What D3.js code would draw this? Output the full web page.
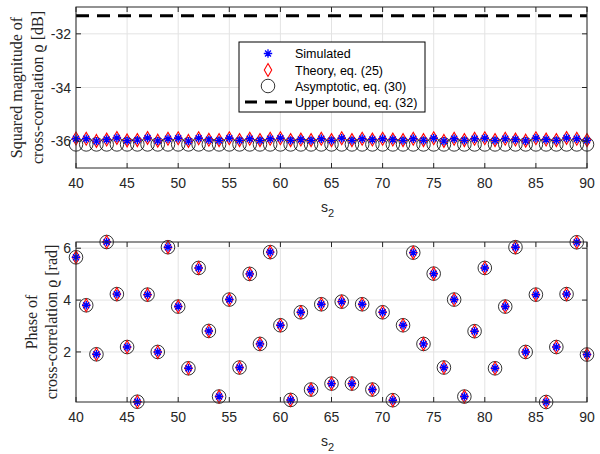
<!DOCTYPE html>
<meta charset="utf-8">
<style>
  body { margin: 0; background: #fff; }
  .tick-label { font: 14px "Liberation Sans", Arial, sans-serif; fill: #262626; }
  .ylab { font: 16px "Liberation Serif", serif; fill: #262626; }
  .legend text { font: 12.5px "Liberation Sans", Arial, sans-serif; fill: #000; }
</style>
<body>
<script src="https://d3js.org/d3.v7.min.js"></script>
<script>
// x values (s_2)
var s2 = [40,41,42,43,44,45,46,47,48,49,50,51,52,53,54,55,56,57,58,59,60,61,62,63,64,65,
          66,67,68,69,70,71,72,73,74,75,76,77,78,79,80,81,82,83,84,85,86,87,88,89,90];

// squared magnitude [dB]
var magSim = [-35.91,-35.91,-36.00,-35.94,-35.88,-35.98,-35.96,-35.88,-35.99,-35.91,-35.89,-36.00,-35.89,
              -35.95,-35.97,-35.89,-35.97,-35.91,-35.97,-35.91,-35.89,-35.97,-35.94,-35.97,-35.91,-35.97,
              -35.89,-35.97,-35.91,-35.94,-35.91,-35.94,-35.97,-35.91,-35.97,-35.89,-36.00,-35.91,-35.97,
              -35.91,-35.89,-35.97,-35.91,-35.94,-35.99,-35.89,-35.94,-35.97,-35.88,-35.91,-35.97];
var magTheory = [-35.90,-35.91,-35.99,-35.94,-35.88,-35.97,-35.96,-35.88,-35.98,-35.91,-35.89,-35.99,-35.89,
              -35.95,-35.96,-35.89,-35.96,-35.91,-35.96,-35.91,-35.89,-35.96,-35.94,-35.96,-35.91,-35.96,
              -35.89,-35.96,-35.91,-35.94,-35.91,-35.94,-35.96,-35.91,-35.96,-35.89,-35.99,-35.91,-35.96,
              -35.91,-35.89,-35.96,-35.91,-35.94,-35.98,-35.89,-35.94,-35.96,-35.88,-35.91,-35.96];
var magAsym = -36.12;
var magUpper = -31.33;

// phase [rad]
var phaseSim = [5.65,3.80,1.91,6.24,4.23,2.19,0.08,4.21,2.00,6.04,3.75,1.37,5.24,2.81,0.28,4.02,1.40,
                5.01,2.31,5.85,3.03,0.15,3.53,0.55,3.84,0.78,3.94,0.78,3.84,0.55,3.53,0.14,3.03,5.83,
                2.31,5.02,1.40,4.02,0.28,2.80,5.24,1.37,3.75,6.04,2.00,4.21,0.07,2.19,4.23,6.23,1.90];
var phaseTheory = phaseSim.slice();
var phaseAsym = phaseSim.slice();

var xTicks = [40,45,50,55,60,65,70,75,80,85,90];
var magTicks = [-36,-34,-32];
var phaseTicks = [2,4,6];

var legendLabels = ["Simulated", "Theory, eq. (25)", "Asymptotic, eq. (30)", "Upper bound, eq. (32)"];

var W = 600, H = 454;
var svg = d3.select("body").append("svg").attr("width", W).attr("height", H);

var left = 76, right = 587;
var x = d3.scaleLinear().domain([40, 90]).range([left, right]);

var axisColor = "#262626", gridColor = "#e3e3e3";

function starPath(r) {
  var d = r * Math.SQRT1_2;
  return "M" + (-r) + ",0L" + r + ",0M0," + (-r) + "L0," + r +
         "M" + (-d) + "," + (-d) + "L" + d + "," + d + "M" + (-d) + "," + d + "L" + d + "," + (-d);
}
var diamond = d3.symbol().type(d3.symbolDiamond).size(48)();
var circle = d3.symbol().type(d3.symbolCircle).size(145)();
var star = starPath(4.2);

function panel(top, bottom, yDomain, yTicks, labLines, series) {
  var y = d3.scaleLinear().domain(yDomain).range([bottom, top]);
  var g = svg.append("g");

  // grid
  g.selectAll(".gx").data(xTicks).enter().append("line")
    .attr("x1", x).attr("x2", x).attr("y1", top).attr("y2", bottom)
    .attr("stroke", gridColor);
  g.selectAll(".gy").data(yTicks).enter().append("line")
    .attr("x1", left).attr("x2", right).attr("y1", y).attr("y2", y)
    .attr("stroke", gridColor);

  series(g, y);

  // box
  g.append("rect").attr("x", left).attr("y", top)
    .attr("width", right - left).attr("height", bottom - top)
    .attr("fill", "none").attr("stroke", axisColor).attr("stroke-width", 1);

  // ticks (all four sides, inward)
  var tl = 5;
  xTicks.forEach(function(t) {
    g.append("line").attr("x1", x(t)).attr("x2", x(t)).attr("y1", bottom).attr("y2", bottom - tl).attr("stroke", axisColor);
    g.append("line").attr("x1", x(t)).attr("x2", x(t)).attr("y1", top).attr("y2", top + tl).attr("stroke", axisColor);
    g.append("text").attr("class", "tick-label").attr("x", x(t)).attr("y", bottom + 20)
      .attr("text-anchor", "middle").text(t);
  });
  yTicks.forEach(function(t) {
    g.append("line").attr("x1", left).attr("x2", left + tl).attr("y1", y(t)).attr("y2", y(t)).attr("stroke", axisColor);
    g.append("line").attr("x1", right).attr("x2", right - tl).attr("y1", y(t)).attr("y2", y(t)).attr("stroke", axisColor);
    g.append("text").attr("class", "tick-label").attr("x", left - 5).attr("y", y(t) + 5)
      .attr("text-anchor", "end").text(t);
  });

  // x label s_2
  var xl = g.append("text").attr("class", "tick-label").attr("x", (left + right) / 2 - 4).attr("y", bottom + 44)
    .attr("text-anchor", "middle");
  xl.append("tspan").text("s");
  xl.append("tspan").attr("dy", 5).attr("font-size", "11px").text("2");

  // y label (two lines)
  var cy = (top + bottom) / 2;
  var yl = g.append("text").attr("class", "ylab")
    .attr("transform", "translate(0," + cy + ") rotate(-90)")
    .attr("text-anchor", "middle");
  yl.append("tspan").attr("x", 0).attr("y", labLines.x1).text(labLines.l1);
  yl.append("tspan").attr("x", 0).attr("y", labLines.x2).text(labLines.l2);
  return y;
}

function drawMarkers(g, xs, ys, y) {
  var pts = function(vals) { return vals.map(function(v, i) { return [xs[i], v]; }); };
  g.selectAll(null).data(pts(ys.asym)).enter().append("path").attr("d", circle)
    .attr("transform", function(d) { return "translate(" + x(d[0]) + "," + y(d[1]) + ")"; })
    .attr("fill", "none").attr("stroke", "#000").attr("stroke-width", 0.8);
  g.selectAll(null).data(pts(ys.theory)).enter().append("path").attr("d", diamond)
    .attr("transform", function(d) { return "translate(" + x(d[0]) + "," + y(d[1]) + ")"; })
    .attr("fill", "none").attr("stroke", "#ff0000").attr("stroke-width", 1.1);
  g.selectAll(null).data(pts(ys.sim)).enter().append("path").attr("d", star)
    .attr("transform", function(d) { return "translate(" + x(d[0]) + "," + y(d[1]) + ")"; })
    .attr("fill", "none").attr("stroke", "#0000ff").attr("stroke-width", 1.4);
}

// top panel: magnitude
panel(7, 168, [-37, -31], magTicks,
  { l1: "Squared magnitude of", l2: "cross-correlation \u03F1 [dB]", x1: 22, x2: 43 },
  function(g, y) {
    g.append("line").attr("x1", x(40)).attr("x2", x(90))
      .attr("y1", y(magUpper)).attr("y2", y(magUpper))
      .attr("stroke", "#000").attr("stroke-width", 3).attr("stroke-dasharray", "13,8");
    drawMarkers(g, s2, { sim: magSim, theory: magTheory, asym: s2.map(function() { return magAsym; }) }, y);
  });

// bottom panel: phase
panel(242, 402, d3.extent(phaseSim), phaseTicks,
  { l1: "Phase of", l2: "cross-correlation \u03F1 [rad]", x1: 37, x2: 57 },
  function(g, y) {
    drawMarkers(g, s2, { sim: phaseSim, theory: phaseTheory, asym: phaseAsym }, y);
  });

// legend
var lg = svg.append("g").attr("class", "legend").attr("transform", "translate(239,42)");
lg.append("rect").attr("width", 186).attr("height", 70).attr("fill", "#fff")
  .attr("stroke", "#000").attr("stroke-width", 1);
var rowY = [11.5, 28, 44, 60];
var mx = 29, tx = 56;
lg.append("path").attr("d", star).attr("transform", "translate(" + mx + "," + rowY[0] + ")")
  .attr("fill", "none").attr("stroke", "#0000ff").attr("stroke-width", 1.3);
lg.append("path").attr("d", diamond).attr("transform", "translate(" + mx + "," + rowY[1] + ")")
  .attr("fill", "none").attr("stroke", "#ff0000").attr("stroke-width", 1.1);
lg.append("path").attr("d", circle).attr("transform", "translate(" + mx + "," + rowY[2] + ")")
  .attr("fill", "none").attr("stroke", "#000").attr("stroke-width", 0.8);
lg.append("line").attr("x1", 6).attr("x2", 53).attr("y1", rowY[3]).attr("y2", rowY[3])
  .attr("stroke", "#000").attr("stroke-width", 3).attr("stroke-dasharray", "12,8");
legendLabels.forEach(function(t, i) {
  lg.append("text").attr("x", tx).attr("y", rowY[i] + 4.5).text(t);
});
</script>
</body>
